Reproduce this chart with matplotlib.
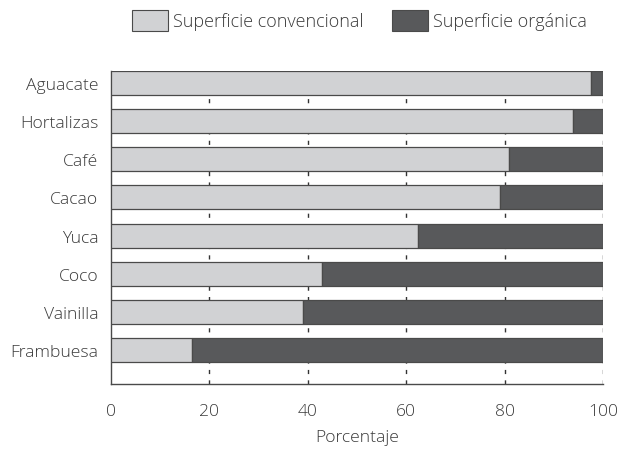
import matplotlib
matplotlib.use("Agg")
import matplotlib.pyplot as plt
from matplotlib.patches import Patch

categories = ["Aguacate", "Hortalizas", "Café", "Cacao", "Yuca", "Coco", "Vainilla", "Frambuesa"]
convencional = [97.5, 94.0, 81.0, 79.0, 62.5, 43.0, 39.0, 16.5]
organica = [100 - v for v in convencional]
xticks = [0, 20, 40, 60, 80, 100]
series_names = ["Superficie convencional", "Superficie orgánica"]

light = "#d1d2d4"
dark = "#58595b"
edge = "#4a4a4a"
txt = "#3a3a3a"

plt.rcParams['font.family'] = ['Open Sans', 'DejaVu Sans']
plt.rcParams['font.weight'] = 'light'
plt.rcParams['axes.labelweight'] = 'light'

fig = plt.figure(figsize=(6.3, 4.56), dpi=100)
ax = fig.add_axes([0.176, 0.156, 0.781, 0.686])

y = list(range(len(categories)))
h = 0.63
ax.barh(y, convencional, height=h, color=light, edgecolor=edge, linewidth=0.9, zorder=3)
ax.barh(y, organica, left=convencional, height=h, color=dark, edgecolor=edge, linewidth=0.9, zorder=3)

ax.set_xlim(0, 100)
ax.set_ylim(7 + 0.89, -h / 2)
ax.set_yticks(y)
ax.set_yticklabels(categories)
ax.set_xticks(xticks)
ax.set_xticklabels([str(t) for t in xticks])
ax.tick_params(axis='both', length=0, labelsize=12.6, colors=txt)
ax.tick_params(axis='y', pad=9)
ax.tick_params(axis='x', pad=14)

for t in xticks[1:]:
    ax.axvline(t, color="#333333", linewidth=1.0, linestyle=(0, (3, 4.5)), zorder=1)

for s in ["top", "right"]:
    ax.spines[s].set_visible(False)
for s in ["left", "bottom"]:
    ax.spines[s].set_color(edge)
    ax.spines[s].set_linewidth(1.0)

ax.set_xlabel("Porcentaje", fontsize=12.6, color=txt, labelpad=7, fontweight='light')

handles = [Patch(facecolor=light, edgecolor=edge, linewidth=0.8),
           Patch(facecolor=dark, edgecolor=edge, linewidth=0.8)]
leg = fig.legend(handles, series_names, loc="upper center", bbox_to_anchor=(0.571, 1.012),
                 ncol=2, frameon=False, fontsize=13, handlelength=1.95, handleheight=1.45,
                 handletextpad=0.3, columnspacing=1.6, labelcolor=txt)

fig.savefig("out.png", dpi=100)
